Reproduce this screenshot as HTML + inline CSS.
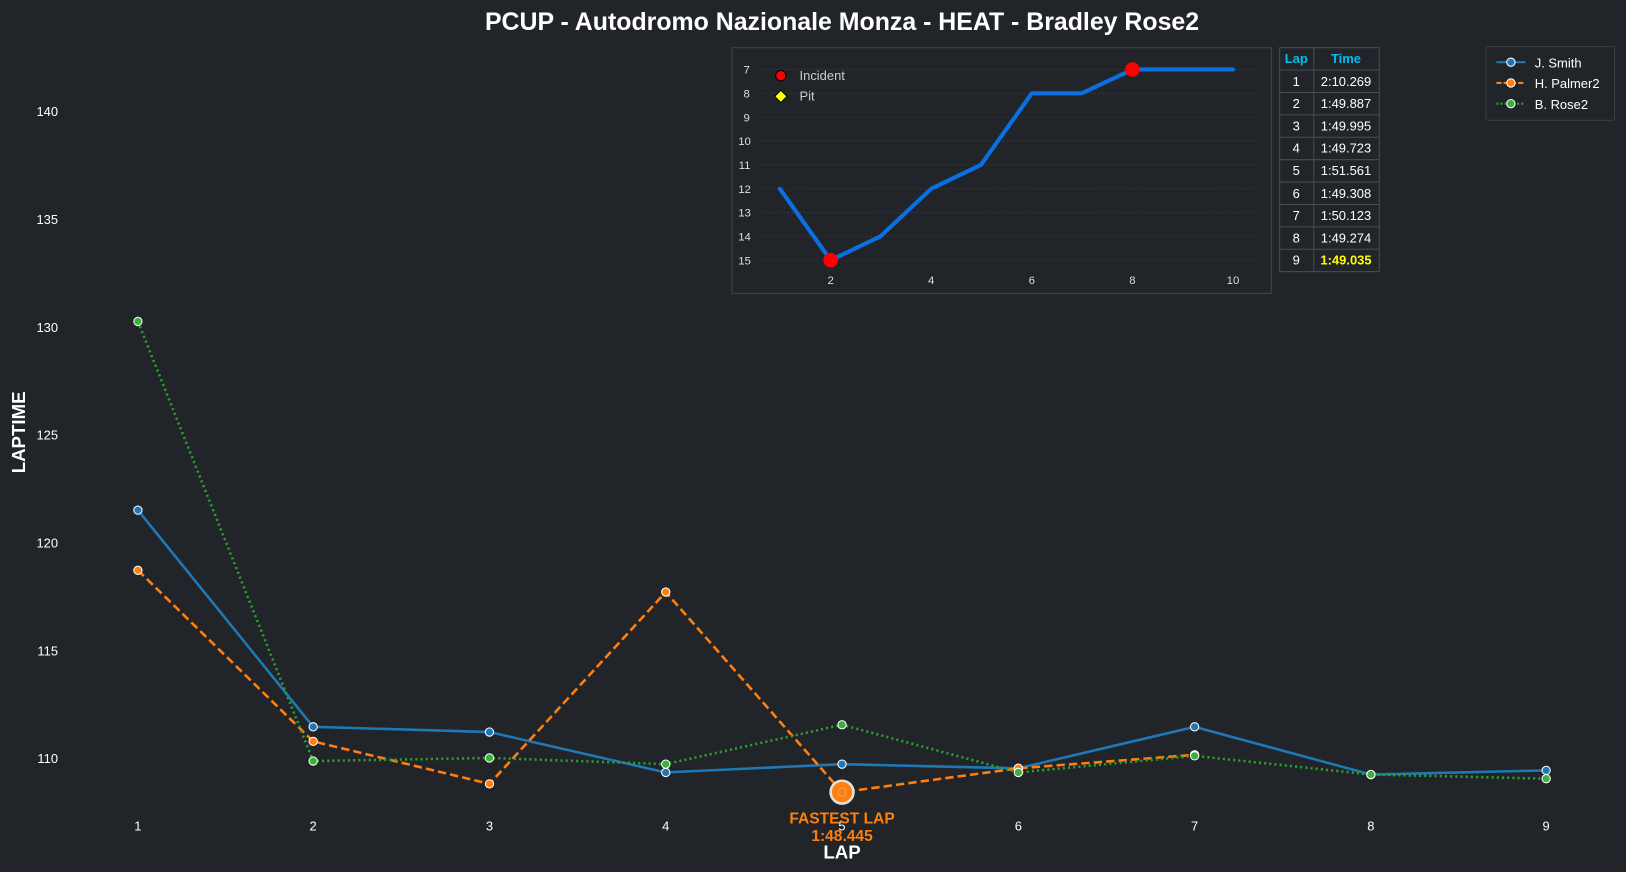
<!DOCTYPE html>
<html><head><meta charset="utf-8"><style>
html,body{margin:0;padding:0;background:#212429;}
svg{display:block;font-family:"Liberation Sans",Arial,sans-serif;}
</style></head><body>
<svg width="1626" height="872" viewBox="0 0 1568 841" preserveAspectRatio="none" xmlns="http://www.w3.org/2000/svg">
<rect width="1568" height="841" fill="#212429"/>
<text x="812" y="29" text-anchor="middle" fill="#fff" font-size="24" font-weight="bold">PCUP - Autodromo Nazionale Monza - HEAT - Bradley Rose2</text>
<g fill="#fff" font-size="12.5" text-anchor="end">
<text x="56" y="112">140</text><text x="56" y="216">135</text><text x="56" y="320">130</text>
<text x="56" y="424">125</text><text x="56" y="528">120</text><text x="56" y="632">115</text><text x="56" y="736">110</text>
</g>
<g fill="#fff" font-size="12.5" text-anchor="middle">
<text x="133" y="801">1</text><text x="302" y="801">2</text><text x="472" y="801">3</text><text x="642" y="801">4</text><text x="812" y="801">5</text><text x="982" y="801">6</text><text x="1152" y="801">7</text><text x="1322" y="801">8</text><text x="1491" y="801">9</text>
</g>
<text x="812" y="828" text-anchor="middle" fill="#fff" font-size="18" font-weight="bold">LAP</text>
<text transform="translate(24,417) rotate(-90)" text-anchor="middle" fill="#fff" font-size="18" font-weight="bold">LAPTIME</text>
<polyline fill="none" stroke="#1f77b4" stroke-width="2.5" points="133,492 302,701 472,706 642,745 812,737 982,741 1152,701 1322,747 1491,743"/>
<polyline fill="none" stroke="#ff7f0e" stroke-width="2.5" stroke-dasharray="8,4" points="133,550 302,715 472,756 642,571 812,764 982,741 1152,728"/>
<polyline fill="none" stroke="#2ca02c" stroke-width="2.5" stroke-dasharray="2,3" points="133,310 302,734 472,731 642,737 812,699 982,745 1152,729 1322,747 1491,751"/>
<g stroke="#fff" stroke-width="1">
<g fill="#1f77b4"><circle cx="133" cy="492" r="4"/><circle cx="302" cy="701" r="4"/><circle cx="472" cy="706" r="4"/><circle cx="642" cy="745" r="4"/><circle cx="812" cy="737" r="4"/><circle cx="982" cy="741" r="4"/><circle cx="1152" cy="701" r="4"/><circle cx="1322" cy="747" r="4"/><circle cx="1491" cy="743" r="4"/></g>
<g fill="#ff7f0e"><circle cx="133" cy="550" r="4"/><circle cx="302" cy="715" r="4"/><circle cx="472" cy="756" r="4"/><circle cx="642" cy="571" r="4"/><circle cx="982" cy="741" r="4"/><circle cx="1152" cy="728" r="4"/></g>
<g fill="#3cb03c"><circle cx="133" cy="310" r="4"/><circle cx="302" cy="734" r="4"/><circle cx="472" cy="731" r="4"/><circle cx="642" cy="737" r="4"/><circle cx="812" cy="699" r="4"/><circle cx="982" cy="745" r="4"/><circle cx="1152" cy="729" r="4"/><circle cx="1322" cy="747" r="4"/><circle cx="1491" cy="751" r="4"/></g>
</g>
<circle cx="812" cy="764" r="11" fill="#ff7f0e" stroke="#e8e0d8" stroke-width="2.5"/>
<circle cx="812" cy="764" r="4" fill="#ff7f0e" stroke="#f0a060" stroke-width="1"/>
<text x="812" y="794" text-anchor="middle" fill="#ff7f0e" font-size="15" font-weight="bold">FASTEST LAP</text>
<text x="812" y="811" text-anchor="middle" fill="#ff7f0e" font-size="15" font-weight="bold">1:48.445</text>
<rect x="706" y="46" width="520" height="237" fill="#212429" stroke="#3c3f44" stroke-width="1.2"/>
<g stroke="#33363b" stroke-dasharray="2,2" stroke-width="1">
<line x1="735" x2="1212" y1="67" y2="67"/><line x1="735" x2="1212" y1="90" y2="90"/><line x1="735" x2="1212" y1="113" y2="113"/><line x1="735" x2="1212" y1="136" y2="136"/><line x1="735" x2="1212" y1="159" y2="159"/><line x1="735" x2="1212" y1="182" y2="182"/><line x1="735" x2="1212" y1="205" y2="205"/><line x1="735" x2="1212" y1="228" y2="228"/><line x1="735" x2="1212" y1="251" y2="251"/>
</g>
<g fill="#ddd" font-size="11" text-anchor="middle">
<text x="720" y="71">7</text><text x="720" y="94">8</text><text x="720" y="117">9</text><text x="718" y="140">10</text><text x="718" y="163">11</text><text x="718" y="186">12</text><text x="718" y="209">13</text><text x="718" y="232">14</text><text x="718" y="255">15</text>
<text x="801" y="274">2</text><text x="898" y="274">4</text><text x="995" y="274">6</text><text x="1092" y="274">8</text><text x="1189" y="274">10</text>
</g>
<polyline fill="none" stroke="#0a6fe0" stroke-width="4" stroke-linejoin="round" stroke-linecap="round" points="752,182 801,251 849,228 898,182 946,159 995,90 1043,90 1092,67 1140,67 1189,67"/>
<circle cx="801" cy="251" r="7" fill="#ff0000"/><circle cx="1092" cy="67" r="7" fill="#ff0000"/>
<circle cx="753" cy="73" r="5" fill="#ff0000" stroke="#000" stroke-width="1"/>
<text x="771" y="77" fill="#ccc" font-size="12.5">Incident</text>
<polygon points="753,87 759,93 753,99 747,93" fill="#ffff00" stroke="#000" stroke-width="1"/>
<text x="771" y="97" fill="#ccc" font-size="12.5">Pit</text>
<g stroke="#4a4d52" stroke-width="1" fill="none">
<rect x="1234" y="46" width="96" height="216"/>
<line x1="1267" y1="46" x2="1267" y2="262"/>
<line x1="1234" y1="67.6" x2="1330" y2="67.6"/><line x1="1234" y1="89.2" x2="1330" y2="89.2"/><line x1="1234" y1="110.8" x2="1330" y2="110.8"/><line x1="1234" y1="132.4" x2="1330" y2="132.4"/><line x1="1234" y1="154" x2="1330" y2="154"/><line x1="1234" y1="175.6" x2="1330" y2="175.6"/><line x1="1234" y1="197.2" x2="1330" y2="197.2"/><line x1="1234" y1="218.8" x2="1330" y2="218.8"/><line x1="1234" y1="240.4" x2="1330" y2="240.4"/>
</g>
<g font-size="12.5" text-anchor="middle" fill="#fff">
<text x="1250" y="61" fill="#00c0f0" font-weight="bold">Lap</text><text x="1298" y="61" fill="#00c0f0" font-weight="bold">Time</text>
<text x="1250" y="83">1</text><text x="1298" y="83">2:10.269</text>
<text x="1250" y="104">2</text><text x="1298" y="104">1:49.887</text>
<text x="1250" y="126">3</text><text x="1298" y="126">1:49.995</text>
<text x="1250" y="147">4</text><text x="1298" y="147">1:49.723</text>
<text x="1250" y="169">5</text><text x="1298" y="169">1:51.561</text>
<text x="1250" y="191">6</text><text x="1298" y="191">1:49.308</text>
<text x="1250" y="212">7</text><text x="1298" y="212">1:50.123</text>
<text x="1250" y="234">8</text><text x="1298" y="234">1:49.274</text>
<text x="1250" y="255">9</text><text x="1298" y="255" fill="#ffff00" font-weight="bold">1:49.035</text>
</g>
<rect x="1433" y="45" width="124" height="71" rx="2" fill="#212429" stroke="#3c3f44"/>
<line x1="1443" x2="1471" y1="60" y2="60" stroke="#1f77b4" stroke-width="2"/><circle cx="1457" cy="60" r="4" fill="#1f77b4" stroke="#fff"/>
<line x1="1443" x2="1471" y1="80" y2="80" stroke="#ff7f0e" stroke-width="2" stroke-dasharray="5,2"/><circle cx="1457" cy="80" r="4" fill="#ff7f0e" stroke="#fff"/>
<line x1="1443" x2="1471" y1="100" y2="100" stroke="#2ca02c" stroke-width="2" stroke-dasharray="2,2"/><circle cx="1457" cy="100" r="4" fill="#3cb03c" stroke="#fff"/>
<g fill="#fff" font-size="12.5"><text x="1480" y="65">J. Smith</text><text x="1480" y="85">H. Palmer2</text><text x="1480" y="105">B. Rose2</text></g>
</svg>
</body></html>
